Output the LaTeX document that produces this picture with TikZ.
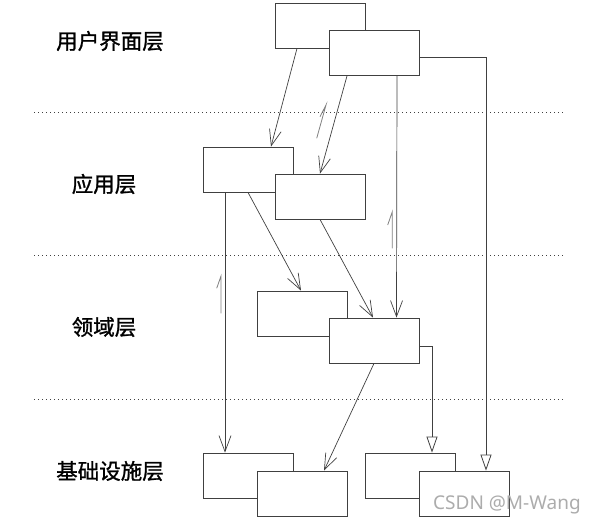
\documentclass[tikz,border=0pt]{standalone}
\usepackage{fontspec}
\newfontfamily\cjk[FakeBold=1.2]{Noto Sans CJK SC}
\newfontfamily\wmfont{Noto Sans}
\usetikzlibrary{arrows.meta}
\definecolor{ln}{HTML}{404040}
\tikzset{
  cls/.style={draw=ln, line width=0.8pt, fill=white, minimum width=90pt, minimum height=45pt, inner sep=0pt},
  layer/.style={font=\cjk\fontsize{21.5}{24}\selectfont, text=black, inner sep=0pt},
  sep/.style={draw=ln, line width=0.8pt, dash pattern=on 0.8pt off 3.2pt},
  dep/.style={draw=ln, line width=0.7pt, -{Straight Barb[length=16pt,width=12pt,line width=0.7pt]}},
  inh/.style={draw=ln, line width=0.8pt, -{Triangle[open,length=16pt,width=11pt,line width=0.8pt,fill=white]}},
  dirmark/.style={draw=gray, line width=0.8pt},
}
\begin{document}
\begin{tikzpicture}[x=1pt,y=-1pt]
\useasboundingbox (0,0) rectangle (594,524);
% layer separators
\draw[sep] (34,112) -- (563,112);
\draw[sep] (34,255) -- (563,255);
\draw[sep] (34,399) -- (563,399);
% layer labels
\node[layer] (l1) at (110,41) {用户界面层};
\node[layer] (l2) at (104,184) {应用层};
\node[layer] (l3) at (104,327) {领域层};
\node[layer] (l4) at (110,471) {基础设施层};
% boxes
\node[cls] (A) at (320,25.5) {};
\node[cls] (B) at (374,53) {};
\node[cls] (C) at (248,169.5) {};
\node[cls] (D) at (320,196.5) {};
\node[cls] (E) at (302,313.5) {};
\node[cls] (F) at (374,340.5) {};
\node[cls] (G) at (248,475.5) {};
\node[cls] (H) at (302,493.5) {};
\node[cls] (I) at (410,475.5) {};
\node[cls] (J) at (464,493.5) {};
% connectors
\draw[dep] ([xshift=-23pt]A.south) -- ([xshift=23pt]C.north);
\draw[dep] ([xshift=-27pt]B.south) -- (D.north);
\draw[dep] ([xshift=23pt]B.south) -- ([xshift=22.5pt]F.north);
\draw[inh] ([yshift=-4.5pt]B.east) -| ([xshift=22pt]J.north);
\draw[dep] ([xshift=-23pt]C.south) -- ([xshift=-23pt]G.north);
\draw[dep] (C.south) -- ([xshift=-1pt]E.north);
\draw[dep] (D.south) -- ([xshift=-1pt]F.north);
\draw[dep] (F.south) -- ([xshift=22pt]H.north);
\draw[inh] ([yshift=-5.5pt]F.east) -| ([xshift=22pt]I.north);
% direction marks
\draw[dirmark] (316.7,138.3) -- (326,105) -- (320,116.7);
\draw[dirmark] (392.3,248.3) -- (392.3,211.7) -- (387.7,225);
\draw[dirmark] (221,313.3) -- (221,276) -- (216.7,288.3);
% watermark
\node[font=\wmfont\fontsize{19}{22}\selectfont, text=gray!65, anchor=base west, inner sep=0pt] (wm) at (433,509) {CSDN @M-Wang};
\end{tikzpicture}
\end{document}
